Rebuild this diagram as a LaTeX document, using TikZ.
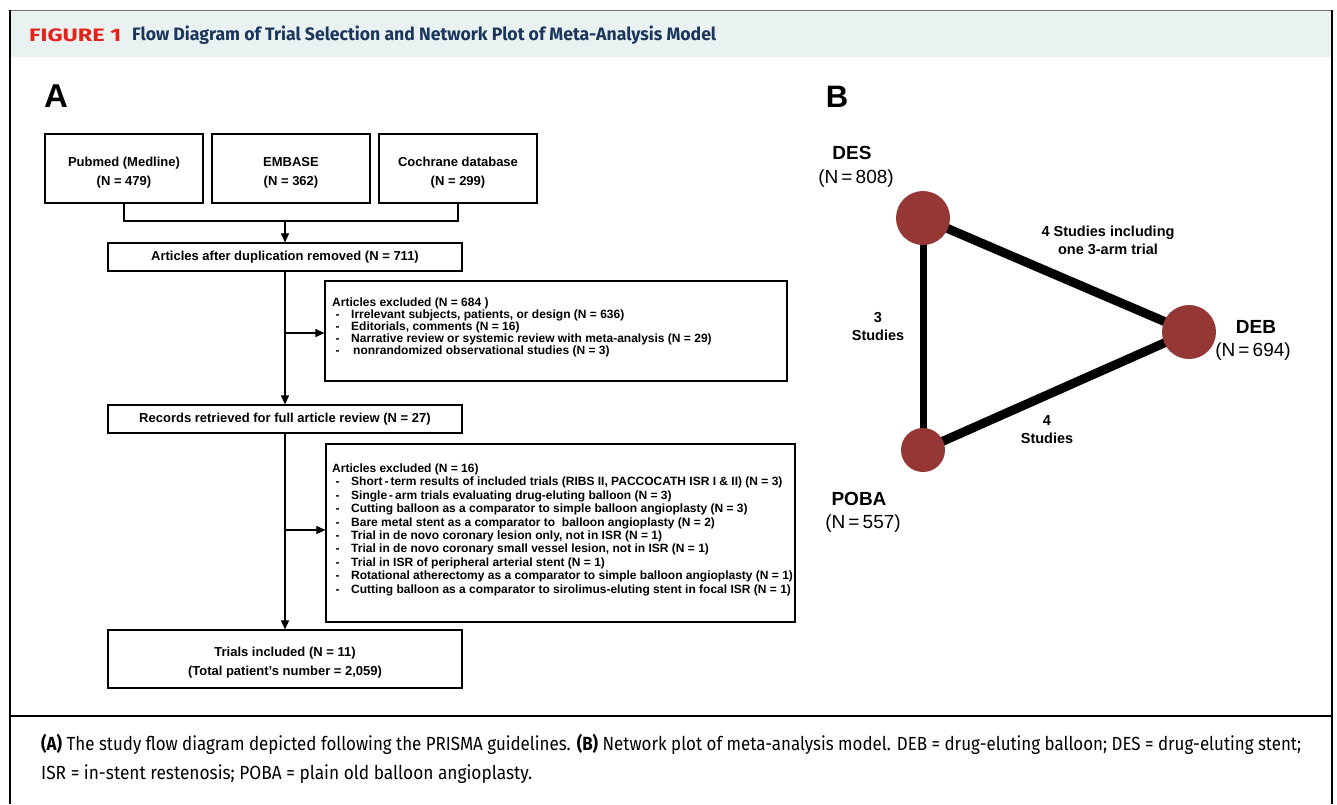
\documentclass[tikz,border=0pt]{standalone}
\usepackage{fontspec}
\usepackage{graphicx}
\setmainfont{Liberation Sans}
\newfontfamily\capfont{Fira Sans}
\usetikzlibrary{arrows.meta,backgrounds}
\definecolor{band}{HTML}{E9F1F1}
\definecolor{figred}{HTML}{E2231A}
\definecolor{navy}{HTML}{1B365D}
\definecolor{nodered}{HTML}{953735}
\newcommand{\tstrut}{\rule{0pt}{17.5pt}}
\begin{document}
\begin{tikzpicture}[x=1pt,y=-1pt,
  fbox/.style={draw, line width=1.2pt, align=center, inner sep=0pt,
    font=\fontsize{13}{19}\selectfont\bfseries},
  exbox/.style={draw, line width=1.2pt, inner sep=0pt},
  listtext/.style={anchor=north west, align=left, inner sep=0pt,
    font=\fontsize{12}{11.9}\selectfont\bfseries},
  conn/.style={line width=1.1pt},
  arr/.style={line width=1.1pt, -{Triangle[length=9pt,width=8pt]}},
  circ/.style={circle, fill=nodered, inner sep=0pt},
  netname/.style={font=\fontsize{19}{19}\selectfont\bfseries, inner sep=0pt},
  netn/.style={font=\fontsize{19}{19}\selectfont, inner sep=0pt},
  elabel/.style={font=\fontsize{14.5}{18}\selectfont\bfseries, align=center, inner sep=0pt},
  panel/.style={font=\fontsize{33}{33}\selectfont\bfseries, inner sep=0pt}
]
\useasboundingbox (0,0) rectangle (1337,804);
\begin{scope}[on background layer]
\fill[white] (0,0) rectangle (1337,804);
\fill[band] (10,11) rectangle (1331,57);
\end{scope}
% frame
\draw[black!55, line width=1pt] (9,10.5) -- (1332,10.5);
\draw[line width=2pt] (9.5,10) -- (9.5,804);
\draw[line width=2pt] (1331.5,10) -- (1331.5,804);
\draw[line width=2.2pt] (9,716) -- (1332,716);
\node[anchor=west, inner sep=0pt, text=figred] (fig) at (29,35)
  {\resizebox{92pt}{\height}{\capfont\fontsize{18}{18}\selectfont\bfseries FIGURE 1}};
\node[anchor=west, inner sep=0pt, text=navy] (title) at (132,35)
  {\resizebox{584pt}{\height}{\capfont\fontsize{18}{18}\selectfont\bfseries Flow Diagram of Trial Selection and Network Plot of Meta-Analysis Model}};

% caption
\node[anchor=base west, inner sep=0pt] (cap1) at (41,750)
  {\resizebox{1260pt}{\height}{\capfont\fontsize{19}{20}\selectfont\textbf{(A)} The study flow diagram depicted following the PRISMA guidelines. \textbf{(B)} Network plot of meta-analysis model. DEB = drug-eluting balloon; DES = drug-eluting stent;}};
\node[anchor=base west, inner sep=0pt] (cap2) at (41,779)
  {\resizebox{491pt}{\height}{\capfont\fontsize{19}{20}\selectfont ISR = in-stent restenosis; POBA = plain old balloon angioplasty.}};

% panel letters
\node[panel] (pa) at (56,96) {A};
\node[panel, font=\fontsize{31}{31}\selectfont\bfseries] (pb) at (837,97) {B};

% ---- Panel A flow diagram
\node[fbox, minimum width=158pt, minimum height=69pt] (pub) at (124,168.5) {\tstrut Pubmed (Medline)\\(N = 479)};
\node[fbox, minimum width=158pt, minimum height=69pt] (emb) at (291,168.5) {\tstrut EMBASE\\(N = 362)};
\node[fbox, minimum width=158pt, minimum height=69pt] (coc) at (458,168.5) {\tstrut Cochrane database\\(N = 299)};
\node[fbox, minimum width=354pt, minimum height=28pt] (dup) at (285,257) {Articles after duplication removed (N = 711)};
\node[exbox, minimum width=462pt, minimum height=100pt] (ex1) at (556,331) {};
\node[fbox, minimum width=354pt, minimum height=28pt] (rec) at (285,419) {Records retrieved for full article review (N = 27)};
\node[exbox, minimum width=469pt, minimum height=178pt] (ex2) at (560.5,533) {};
\node[fbox, minimum width=354pt, minimum height=58pt] (tri) at (285,659) {\tstrut Trials included (N = 11)\\(Total patient’s number = 2,059)};

\newcommand{\itm}[1]{\makebox[19pt][l]{\hspace{3.5pt}-}#1}
\node[listtext] (ex1t) at (332,297.5) {Articles excluded (N = 684 )\\
\itm{Irrelevant subjects, patients, or design (N = 636)}\\
\itm{Editorials, comments (N = 16)}\\
\itm{Narrative review or systemic review with meta-analysis (N = 29)}\\
\itm{\hspace{2pt}nonrandomized observational studies (N = 3)}};

\node[listtext, font=\fontsize{12}{13.4}\selectfont\bfseries] (ex2t) at (332,463.5) {Articles excluded (N = 16)\\
\itm{Short\,-\,term results of included trials (RIBS II, PACCOCATH ISR I \& II) (N = 3)}\\
\itm{Single\,-\,arm trials evaluating drug-eluting balloon (N = 3)}\\
\itm{Cutting balloon as a comparator to simple balloon angioplasty (N = 3)}\\
\itm{Bare metal stent as a comparator to \ balloon angioplasty (N = 2)}\\
\itm{Trial in de novo coronary lesion only, not in ISR (N = 1)}\\
\itm{Trial in de novo coronary small vessel lesion, not in ISR (N = 1)}\\
\itm{Trial in ISR of peripheral arterial stent (N = 1)}\\
\itm{Rotational atherectomy as a comparator to simple balloon angioplasty (N = 1)}\\
\itm{Cutting balloon as a comparator to sirolimus-eluting stent in focal ISR (N = 1)}};

\coordinate (jl) at (124,221);
\coordinate (jr) at (458,221);
\coordinate (jm) at (285,221);
\draw[conn] (pub.south) -- (jl) -- (jr) -- (coc.south);
\draw[arr] (jm) -- (dup.north);
\draw[arr] (dup.south) -- (rec.north);
\draw[arr] (rec.south) -- (tri.north);
\coordinate (b1) at (285,333);
\coordinate (b2) at (285,530);
\draw[arr] (b1) -- (ex1.west |- b1);
\draw[arr] (b2) -- (ex2.west |- b2);

% ---- Panel B network
\node[circ, minimum size=54pt] (des) at (923,218) {};
\node[circ, minimum size=54pt] (deb) at (1189,332) {};
\node[circ, minimum size=44pt] (poba) at (923,450) {};
\begin{scope}[on background layer]
\draw[line width=9pt] (des.center) -- (deb.center);
\draw[line width=9pt] (poba.center) -- (deb.center);
\draw[line width=7pt] (des.center) -- (poba.center);
\end{scope}
\node[netname] (desl) at (852,153) {DES};
\node[netn] (desn) at (856,178.5) {(N\,=\,808)};
\node[netname] (debl) at (1256,327) {DEB};
\node[netn] (debn) at (1253,352) {(N\,=\,694)};
\node[netname] (pobal) at (859,499) {POBA};
\node[netn] (poban) at (863,523.5) {(N\,=\,557)};
\node[elabel] (e1) at (1108,240) {4 Studies including\\one 3-arm trial};
\node[elabel] (e2) at (878,326) {3\\Studies};
\node[elabel] (e3) at (1047,430) {4\\Studies};
\end{tikzpicture}
\end{document}
